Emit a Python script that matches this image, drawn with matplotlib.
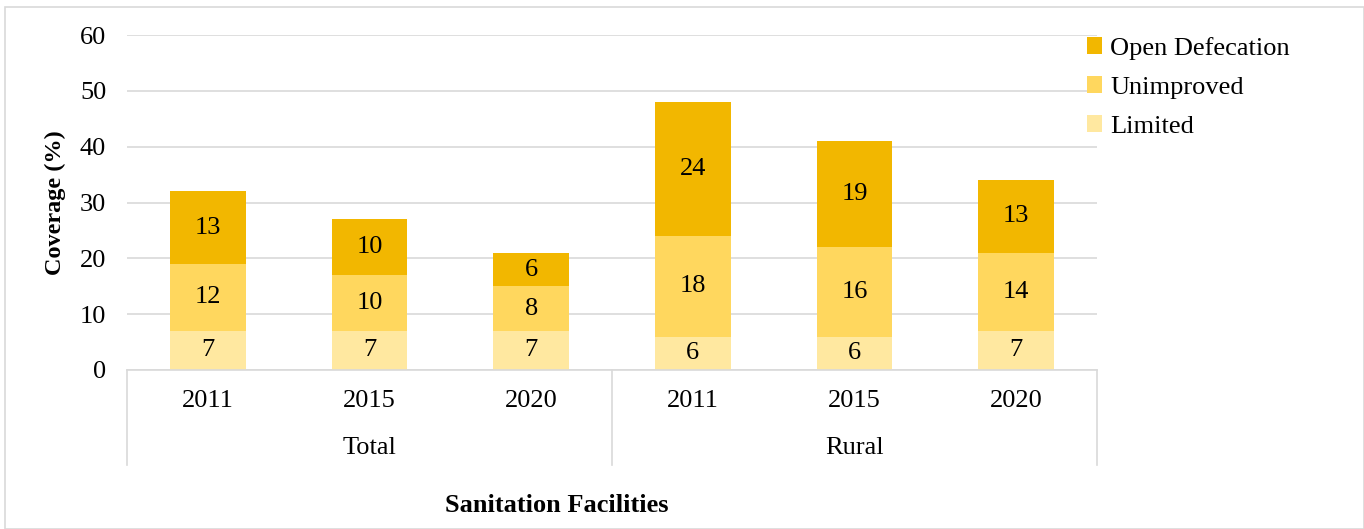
import matplotlib.pyplot as plt
from matplotlib.patches import Rectangle
from matplotlib.lines import Line2D

groups = ['Total', 'Rural']
years = ['2011', '2015', '2020']
limited = [7, 7, 7, 6, 6, 7]
unimproved = [12, 10, 8, 18, 16, 14]
open_def = [13, 10, 6, 24, 19, 13]

c_lim = '#FFE8A0'
c_unimp = '#FFD75E'
c_open = '#F2B700'

plt.rcParams['font.family'] = ['Liberation Serif', 'DejaVu Serif']
FS = 19

W, H = 1364, 529
fig = plt.figure(figsize=(W / 100, H / 100), dpi=100)
# plot area in pixels: x 127..1097, y 35..370
ax = fig.add_axes([127 / W, 1 - 370 / H, 970 / W, 335 / H])

x = list(range(len(limited)))
bw = 0.47
b1 = ax.bar(x, limited, bw, color=c_lim, label='Limited', zorder=2)
b2 = ax.bar(x, unimproved, bw, bottom=limited, color=c_unimp, label='Unimproved', zorder=2)
bot3 = [a + b for a, b in zip(limited, unimproved)]
b3 = ax.bar(x, open_def, bw, bottom=bot3, color=c_open, label='Open Defecation', zorder=2)
for bars in (b1, b2, b3):
    ax.bar_label(bars, label_type='center', fontsize=FS, color='black')

ax.set_xlim(-0.5, len(x) - 0.5)
ax.set_ylim(0, 60)
ax.set_yticks(range(0, 61, 10))
ax.tick_params(axis='y', length=0, labelsize=FS, pad=15)
ax.set_xticks([])
ax.yaxis.grid(True, color='#D9D9D9', linewidth=1.2, zorder=0)
for s in ax.spines.values():
    s.set_visible(False)
ax.set_ylabel('Coverage (%)', fontsize=17.5, fontweight='bold', labelpad=10)

# category axis with two levels
trans = ax.get_xaxis_transform()
ax.add_line(Line2D([-0.5, 5.5], [0, 0], transform=trans, color='#D9D9D9', lw=1.2, clip_on=False))
for xv in (-0.5, 2.5, 5.5):
    ax.add_line(Line2D([xv, xv], [0, -95 / 335], transform=trans, color='#D9D9D9', lw=1.2, clip_on=False))
for i in x:
    ax.text(i, -31 / 335, years[i % 3], transform=trans, ha='center', va='center', fontsize=FS)
for g, name in enumerate(groups):
    ax.text(g * 3 + 1, -78 / 335, name, transform=trans, ha='center', va='center', fontsize=FS)

fig.text(557 / W, 1 - 505 / H, 'Sanitation Facilities', ha='center', va='center',
         fontsize=FS, fontweight='bold')

handles = [b3, b2, b1]
leg = fig.legend(handles, ['Open Defecation', 'Unimproved', 'Limited'],
                 loc='upper left', bbox_to_anchor=(1076 / W, 1 - 26 / H),
                 frameon=False, fontsize=FS, handlelength=0.6, handleheight=0.6,
                 handletextpad=0.3, labelspacing=0.62, borderaxespad=0)

fig.patches.append(Rectangle((5 / W, 0), 1 - 5 / W, 1 - 7 / H, transform=fig.transFigure,
                             fill=False, edgecolor='#D9D9D9', lw=1.2))

fig.savefig('out.png', dpi=100)
